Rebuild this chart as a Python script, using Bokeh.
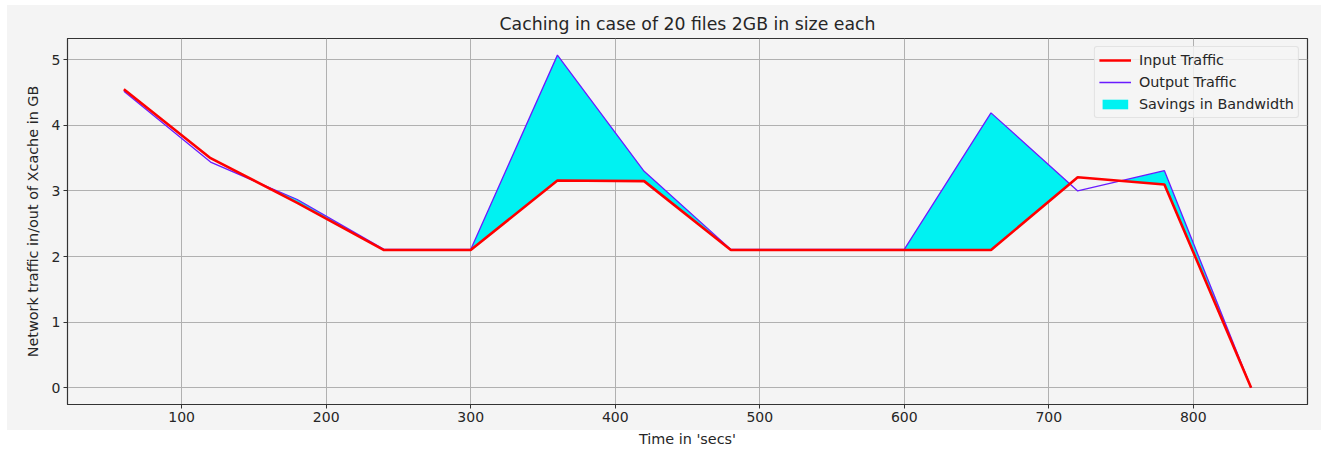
from bokeh.plotting import figure
from bokeh.models import FixedTicker, Legend, LegendItem, ColumnDataSource
from bokeh.embed import file_html
from bokeh.resources import INLINE

time_secs = [60, 120, 180, 240, 300, 360, 420, 480, 540, 600, 660, 720, 780, 840]
input_traffic = [4.55, 3.50, 2.82, 2.10, 2.10, 3.16, 3.15, 2.10, 2.10, 2.10, 2.10, 3.21, 3.10, 0.0]
output_traffic = [4.52, 3.44, 2.87, 2.11, 2.11, 5.07, 3.30, 2.11, 2.11, 2.11, 4.19, 3.00, 3.31, 0.0]
x_ticks = [100, 200, 300, 400, 500, 600, 700, 800]
y_ticks = [0, 1, 2, 3, 4, 5]

# savings region: where output exceeds input (with interpolated crossings)
fx, f1, f2 = [], [], []
for i in range(len(time_secs)):
    xi, a, b = time_secs[i], input_traffic[i], output_traffic[i]
    if i > 0:
        xp, ap, bp = time_secs[i - 1], input_traffic[i - 1], output_traffic[i - 1]
        dp, dc = bp - ap, b - a
        if dp * dc < 0:
            t = dp / (dp - dc)
            xc = xp + t * (xi - xp)
            yc = ap + t * (a - ap)
            fx.append(xc); f1.append(yc); f2.append(yc)
    fx.append(xi); f1.append(a); f2.append(max(a, b))

BG = "#f4f4f4"
TXT = "#262626"

p = figure(width=1331, height=450, output_backend="svg", toolbar_location=None,
           x_range=(21, 879), y_range=(-0.2535, 5.3235),
           min_border_left=67, min_border_right=24, min_border_top=38, min_border_bottom=46)
p.background_fill_color = BG
p.border_fill_alpha = 0
p.styles = {"background": "linear-gradient(#f4f4f4, #f4f4f4) 7px 5px / 1314px 425px no-repeat, #ffffff"}
p.outline_line_color = "#333333"
p.outline_line_width = 1.2

p.title.text = "Caching in case of 20 files 2GB in size each"
p.title.align = "center"
p.title.text_font = "DejaVu Sans"
p.title.text_font_size = "17.3px"
p.title.text_font_style = "normal"
p.title.text_color = TXT
p.title.standoff = 9

for ax in (p.xaxis[0], p.yaxis[0]):
    ax.major_label_text_font = "DejaVu Sans"
    ax.major_label_text_font_size = "14px"
    ax.major_label_text_color = TXT
    ax.axis_label_text_font = "DejaVu Sans"
    ax.axis_label_text_font_size = "14.4px"
    ax.axis_label_text_font_style = "normal"
    ax.axis_label_text_color = TXT
    ax.axis_line_color = "#333333"
    ax.major_tick_line_color = "#333333"
    ax.major_tick_in = 0
    ax.major_tick_out = 4
    ax.minor_tick_line_color = None
    ax.major_label_standoff = 3

p.xaxis[0].ticker = FixedTicker(ticks=x_ticks)
p.yaxis[0].ticker = FixedTicker(ticks=y_ticks)
p.xaxis[0].axis_label = "Time in 'secs'"
p.yaxis[0].axis_label = "Network traffic in/out of Xcache in GB"
p.xaxis[0].axis_label_standoff = 6
p.yaxis[0].axis_label_standoff = 8

p.grid.grid_line_color = "#b0b0b0"
p.grid.grid_line_width = 1

src = ColumnDataSource(dict(x=fx, y1=f1, y2=f2))
r_fill = p.varea(x="x", y1="y1", y2="y2", source=src, fill_color="#00f2f2")
r_out = p.line(time_secs, output_traffic, line_color="#6a1bff", line_width=1.3)
r_in = p.line(time_secs, input_traffic, line_color="#ff0000", line_width=2.6)

legend = Legend(items=[
    LegendItem(label="Input Traffic", renderers=[r_in]),
    LegendItem(label="Output Traffic", renderers=[r_out]),
    LegendItem(label="Savings in Bandwidth", renderers=[r_fill]),
], location="top_right")
legend.label_text_font = "DejaVu Sans"
legend.label_text_font_size = "14.4px"
legend.label_text_color = TXT
legend.background_fill_color = BG
legend.background_fill_alpha = 0.85
legend.border_line_color = "#d0d0d0"
legend.border_radius = 3
legend.glyph_width = 32
legend.glyph_height = 12
legend.label_height = 18
legend.spacing = 4
legend.padding = 4
legend.margin = 8
legend.label_standoff = 8
p.add_layout(legend)

open("out.html", "w").write(file_html(p, INLINE))
